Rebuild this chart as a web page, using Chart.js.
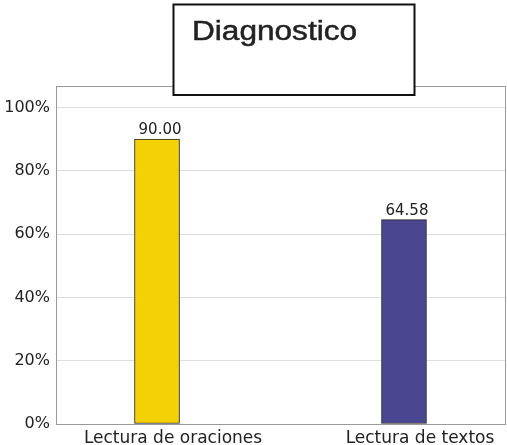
<!DOCTYPE html>
<html>
<head>
<meta charset="utf-8">
<script src="https://cdn.jsdelivr.net/npm/chart.js@4.4.0/dist/chart.umd.min.js"></script>
<style>
  html, body { margin: 0; padding: 0; background: #fff; }
</style>
</head>
<body>
<canvas id="chart" width="507" height="445"></canvas>
<script>
const titulo = "Diagnostico";
const categorias = ["Lectura de oraciones", "Lectura de textos"];
const valores = [90.00, 64.58];
const colores = ["#f3d104", "#4a4690"];
const ticksY = [0, 20, 40, 60, 80, 100];

Chart.defaults.font.family = "'DejaVu Sans', sans-serif";
Chart.defaults.color = "#222";

// marco gris alrededor del area de trazado
const marcoPlugin = {
  id: "marco",
  afterDraw(chart) {
    const { ctx, chartArea: a } = chart;
    ctx.save();
    ctx.strokeStyle = "#999";
    ctx.lineWidth = 1;
    ctx.strokeRect(a.left + 0.5, a.top + 0.5, a.right - a.left, a.bottom - a.top);
    ctx.restore();
  }
};

// valores encima de cada barra
const etiquetasPlugin = {
  id: "etiquetas",
  afterDatasetsDraw(chart) {
    const { ctx } = chart;
    const meta = chart.getDatasetMeta(0);
    ctx.save();
    ctx.font = "15px 'DejaVu Sans'";
    ctx.fillStyle = "#222";
    ctx.textAlign = "center";
    ctx.textBaseline = "alphabetic";
    meta.data.forEach((bar, i) => {
      ctx.fillText(valores[i].toFixed(2), bar.x + 3, bar.y - 5);
    });
    ctx.restore();
  }
};

// caja del titulo
const tituloPlugin = {
  id: "titulo",
  afterDraw(chart) {
    const { ctx } = chart;
    ctx.save();
    ctx.fillStyle = "#fff";
    ctx.fillRect(173, 4, 241, 91);
    ctx.strokeStyle = "#111";
    ctx.lineWidth = 2;
    ctx.strokeRect(173.5, 4.5, 241, 90.5);
    ctx.filter = "blur(0.6px)";
    ctx.fillStyle = "#222";
    ctx.strokeStyle = "#222";
    ctx.lineWidth = 0.5;
    ctx.font = "27px 'Liberation Sans', Arial, sans-serif";
    ctx.textBaseline = "alphabetic";
    ctx.translate(192, 39.5);
    ctx.scale(1.17, 1);
    ctx.fillText(titulo, 0, 0);
    ctx.strokeText(titulo, 0, 0);
    ctx.restore();
  }
};

new Chart(document.getElementById("chart"), {
  type: "bar",
  data: {
    datasets: [
      {
        data: valores.map((v, i) => ({ x: i, y: v })),
        backgroundColor: colores,
        borderColor: "#222",
        borderWidth: 1,
        borderSkipped: false,
        barThickness: 45,
      },
    ],
  },
  options: {
    responsive: false,
    animation: false,
    layout: { padding: { left: 0, right: 2, top: 86, bottom: 0 } },
    plugins: {
      legend: { display: false },
      tooltip: { enabled: false },
    },
    scales: {
      x: {
        type: "linear",
        offset: false,
        min: -0.409,
        max: 1.409,
        afterBuildTicks: (scale) => {
          scale.ticks = categorias.map((c, i) => ({ value: i }));
        },
        afterFit: (scale) => {
          scale.height = 21;
        },
        grid: { display: false, drawTicks: false },
        border: { color: "#999" },
        ticks: {
          autoSkip: false,
          maxRotation: 0,
          padding: 4,
          labelOffset: 16,
          font: { size: 17 },
          callback: (v) => categorias[v],
        },
      },
      y: {
        min: 0,
        max: 106.8,
        afterBuildTicks: (scale) => {
          scale.ticks = ticksY.map((v) => ({ value: v }));
        },
        afterFit: (scale) => {
          scale.width = 56;
        },
        grid: { color: "#ddd", drawTicks: false },
        border: { color: "#999" },
        ticks: {
          padding: 6,
          font: { size: 16 },
          callback: (v) => v + "%",
        },
      },
    },
  },
  plugins: [marcoPlugin, etiquetasPlugin, tituloPlugin],
});
</script>
</body>
</html>
